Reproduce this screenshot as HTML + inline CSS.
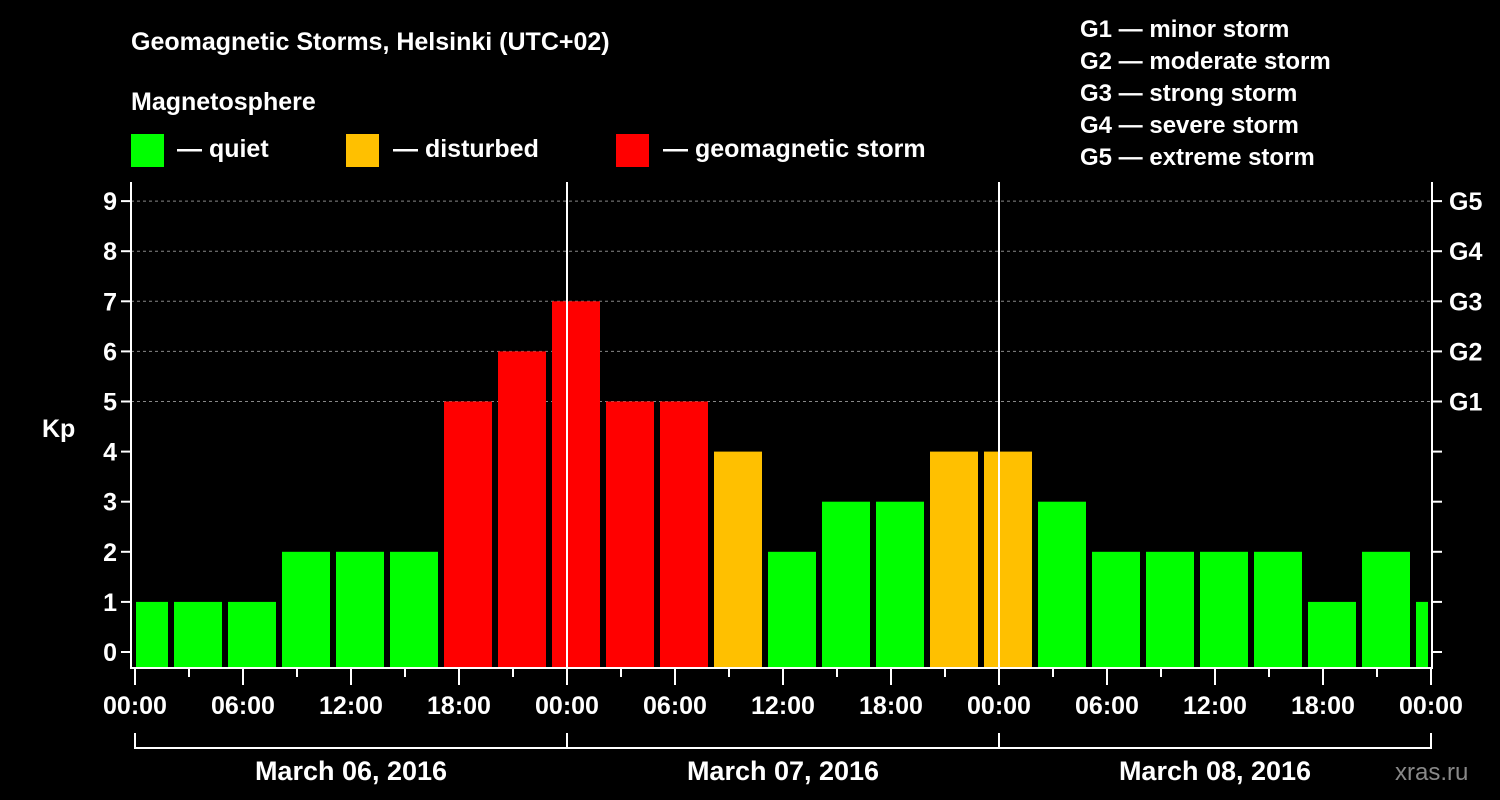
<!DOCTYPE html>
<html><head><meta charset="utf-8"><style>
html,body{margin:0;padding:0;background:#000;}
svg{display:block;font-family:"Liberation Sans",Arial,sans-serif;font-weight:bold;}
</style></head><body>
<svg id="chart" width="1500" height="800" viewBox="0 0 1500 800" xmlns="http://www.w3.org/2000/svg">
<rect width="1500" height="800" fill="#000"/>
<text x="131" y="50" fill="#fff" font-size="25">Geomagnetic Storms, Helsinki (UTC+02)</text>
<text x="131" y="110" fill="#fff" font-size="25">Magnetosphere</text>
<g><rect x="131" y="134" width="33" height="33" fill="#00ff00"/><text x="177" y="157" fill="#fff" font-size="25">— quiet</text></g>
<g><rect x="346" y="134" width="33" height="33" fill="#ffc000"/><text x="393" y="157" fill="#fff" font-size="25">— disturbed</text></g>
<g><rect x="616" y="134" width="33" height="33" fill="#ff0000"/><text x="663" y="157" fill="#fff" font-size="25">— geomagnetic storm</text></g>
<g fill="#fff" font-size="24">
<text x="1080" y="37">G1 — minor storm</text>
<text x="1080" y="69">G2 — moderate storm</text>
<text x="1080" y="101">G3 — strong storm</text>
<text x="1080" y="133">G4 — severe storm</text>
<text x="1080" y="165">G5 — extreme storm</text>
</g>
<text x="42" y="437" fill="#fff" font-size="25">Kp</text>
<text x="1395" y="780" fill="#888" font-size="24" font-weight="normal">xras.ru</text>
<g id="grid"></g><g id="bars"></g><g id="axes"></g>
</svg>
<script>
const kpValues=[1,1,1,2,2,2,5,6,7,5,5,4,2,3,3,4,4,3,2,2,2,2,1,2,1];
const yTicks=[0,1,2,3,4,5,6,7,8,9];
const gLabels=["","","","","","G1","G2","G3","G4","G5"];
const xTickLabels=["00:00","06:00","12:00","18:00","00:00","06:00","12:00","18:00","00:00","06:00","12:00","18:00","00:00"];
const dayLabels=["March 06, 2016","March 07, 2016","March 08, 2016"];
const NS="http://www.w3.org/2000/svg";
const L=131,R=1432,T=182,B=668,X0=135,PXH=18;
const y=v=>652-v*50.1;
const x=h=>X0+h*PXH;
function mk(tag,attrs,parent,text){const e=document.createElementNS(NS,tag);for(const k in attrs)e.setAttribute(k,attrs[k]);if(text!==undefined)e.textContent=text;parent.appendChild(e);return e;}
const grid=document.getElementById('grid'),bars=document.getElementById('bars'),axes=document.getElementById('axes');
yTicks.forEach(v=>{
 if(v>=5){const g=mk('line',{x1:L,x2:R,y1:y(v),y2:y(v),stroke:'#888','stroke-dasharray':'3,3','stroke-width':1},grid);
 
 }
 mk('line',{x1:L-10,x2:L,y1:y(v),y2:y(v),stroke:'#fff','stroke-width':2},axes);
 mk('line',{x1:R,x2:R+10,y1:y(v),y2:y(v),stroke:'#fff','stroke-width':2},axes);
 const t=mk('text',{x:L-14,y:y(v)+9,fill:'#fff','font-size':25,'text-anchor':'end'},axes,String(v));
 
 
 if(gLabels[v]){const g2=mk('text',{x:R+17,y:y(v)+9,fill:'#fff','font-size':25},axes,gLabels[v]);
 
 }
});
kpValues.forEach((v,i)=>{
 const c=x(0.5+3*i);let x1=Math.max(c-24,L+5),x2=Math.min(c+24,R-4);
 const col=v>=5?'#ff0000':(v>=4?'#ffc000':'#00ff00');
 const r=mk('rect',{x:x1,y:y(v),width:x2-x1,height:B-y(v),fill:col},bars);
 
 
});
// frame
mk('polyline',{points:`${L},${T} ${L},${B} ${R},${B} ${R},${T}`,fill:'none',stroke:'#fff','stroke-width':2},axes);
// day separators
[1,2].forEach(d=>mk('line',{x1:x(24*d),x2:x(24*d),y1:T,y2:B,stroke:'#fff','stroke-width':2},axes));
for(let h=0;h<=72;h+=3){mk('line',{x1:x(h),x2:x(h),y1:B,y2:h%6===0?B+17:B+9,stroke:'#fff','stroke-width':2},axes);}
xTickLabels.forEach((s,i)=>{const t=mk('text',{x:x(i*6),y:714,fill:'#fff','font-size':25,'text-anchor':'middle'},axes,s);
 
 });
mk('polyline',{points:`${x(0)},733 ${x(0)},748 ${x(72)},748 ${x(72)},733`,fill:'none',stroke:'#fff','stroke-width':2},axes);
[1,2].forEach(d=>mk('line',{x1:x(24*d),x2:x(24*d),y1:733,y2:748,stroke:'#fff','stroke-width':2},axes));
dayLabels.forEach((s,i)=>{const t=mk('text',{x:x(24*i+12),y:780,fill:'#fff','font-size':27,'text-anchor':'middle'},axes,s);
 
 });
</script>
</body></html>
